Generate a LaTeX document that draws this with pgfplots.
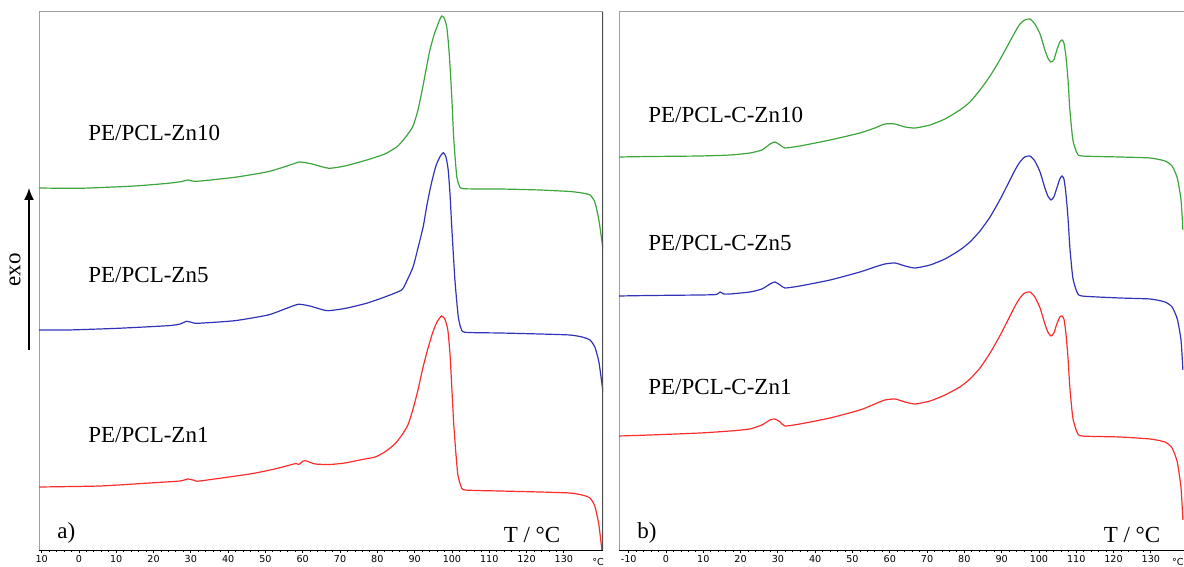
\documentclass[border=0pt]{standalone}
\usepackage{fontspec}
\setmainfont{Liberation Serif}
\newfontfamily\tickfont{DejaVu Sans}
\usepackage{pgfplots}
\pgfplotsset{compat=1.18}
\usetikzlibrary{arrows.meta}

\definecolor{cgreen}{RGB}{60,165,60}
\definecolor{cblue}{RGB}{50,50,185}
\definecolor{cred}{RGB}{250,45,45}
\definecolor{frame}{RGB}{160,160,160}

\pgfplotsset{
  dsc/.style={
    scale only axis,
    height=269pt,
    ymin=0, ymax=538,
    axis x line*=bottom,
    axis y line*=left,
    x axis line style={black,-},
    y axis line style={frame,-},
    ytick=\empty,
    xtick={-10,0,...,130},
    minor x tick num=4,
    tick align=outside,
    major tick length=1.6pt,
    minor tick length=1pt,
    tick style={black,line width=0.4pt},
    xticklabel style={font=\tickfont\fontsize{4.8}{5}\selectfont, inner sep=1pt},
    every axis plot/.append style={line width=0.6pt, no marks, smooth, tension=0.35},
  }
}

\begin{document}
\begin{tikzpicture}
\useasboundingbox (0,0) rectangle (592pt,283.5pt);

% ---------- a) ----------
\begin{axis}[dsc, at={(19.5pt,8.5pt)}, anchor=south west, width=282pt,
    xmin=-10.7, xmax=140.5,
    xticklabels={10,0,10,20,30,40,50,60,70,80,90,100,110,120,130}]
\addplot[cgreen] coordinates {
(-10.7,362) (0.3,361.7) (15.0,364) (23.9,366.7) (27.6,368.5) (29.2,370) (31.6,368.7)
(41.8,372.7) (50.7,378.3) (56.6,385) (59.2,388) (62.5,386) (65.1,383.3) (67.3,381.7)
(71.3,384) (77.2,390) (82.0,396) (85.3,403.3) (87.4,412) (89.5,423.3) (90.9,440)
(92.2,463.3) (93.3,485) (94.1,500) (95.2,515) (96.0,523.3) (96.8,531) (97.3,534)
(97.9,532) (98.6,523.3) (99.1,505) (99.5,483.3) (100.0,450) (100.4,417) (100.8,395)
(101.3,373.3) (101.9,365) (103.0,361.3) (112.9,361) (123.6,360) (131.6,358.5)
(134.9,357) (137.0,355) (138.3,348) (139.4,330) (140.5,301)
};
\addplot[cblue] coordinates {
(-10.7,220) (-2.9,220) (10.5,221.7) (23.9,224.3) (27.1,226) (28.9,228.7) (30.3,227.5)
(31.9,226.7) (41.8,229.3) (50.7,235) (55.2,241) (58.8,245.7) (61.9,244) (64.6,241)
(66.8,239.3) (71.3,241.5) (77.1,246.7) (82.0,253) (86.5,260) (87.9,269) (89.6,283.3)
(90.9,302) (92.3,323.3) (93.3,345) (94.5,366.7) (95.7,384) (96.8,393.3) (97.7,397.3)
(98.4,393) (99.0,380) (99.5,355) (99.9,326.7) (100.8,270) (101.7,233.3) (102.4,222)
(103.5,217.7) (112.9,217) (123.6,216) (131.6,215) (134.9,213) (137.0,210) (138.3,203)
(139.4,188) (140.5,158)
};
\addplot[cred] coordinates {
(-10.7,63) (5.6,64) (19.0,67) (27.1,69) (29.2,71) (31.1,69.5) (32.4,69) (45.8,76)
(52.5,81) (56.6,85) (58.2,86.5) (59.0,85.5) (60.1,89) (61.1,89) (63.3,86) (67.3,85.5)
(71.3,87) (75.3,90) (79.4,93) (82.0,98) (84.7,106) (86.6,115) (88.2,125) (89.5,140)
(90.9,160) (92.2,182) (93.6,202) (94.9,218) (96.0,228) (97.2,234) (98.1,231) (98.9,220)
(99.5,195) (100.0,160) (100.5,125) (101.1,95) (101.6,75) (102.4,64) (103.5,60)
(112.9,59) (123.6,58) (131.6,57) (134.9,55) (137.0,52) (138.3,44) (139.4,25) (140.2,0)
};
\draw[frame,line width=0.5pt] (rel axis cs:0,1) -- (rel axis cs:1,1);
\draw[black!70,line width=0.8pt] (rel axis cs:1,0) -- (rel axis cs:1,1);
\end{axis}

% ---------- b) ----------
\begin{axis}[dsc, at={(309.5pt,8.5pt)}, anchor=south west, width=282.5pt,
    xmin=-12.6, xmax=138.9,
    xticklabels={-10,0,10,20,30,40,50,60,70,80,90,100,110,120,130}]
\addplot[cgreen] coordinates {
(-12.6,393) (-4.3,393.5) (9.1,394) (17.2,395) (22.5,397) (25.7,400) (27.9,406)
(29.2,408) (30.6,405) (31.9,402) (35.9,404) (44.0,410) (52.0,417) (56.0,422)
(58.7,426) (61.4,426) (64.1,423) (66.8,422) (70.8,425) (74.8,431) (78.8,440)
(81.5,448) (84.2,460) (86.9,474) (89.5,490) (91.7,505) (93.6,518) (94.9,526)
(96.2,530) (97.6,531) (98.9,526) (100.3,516) (101.6,500) (102.4,492) (103.2,488)
(104.0,490) (104.8,500) (105.6,508) (106.2,510) (106.7,507) (107.2,495) (107.8,470)
(108.3,440) (109.1,410) (110.2,397) (111.5,394) (121.7,393) (129.8,392) (133.8,389)
(135.7,384) (137.1,372) (138.1,350) (138.6,320)
};
\addplot[cblue] coordinates {
(-12.6,254) (-4.3,254.5) (9.1,255) (13.5,255.5) (14.5,258) (15.5,256) (17.2,256)
(22.5,258) (25.7,261) (27.9,266) (29.2,268) (30.6,265) (31.9,262) (35.9,264)
(44.0,270) (52.0,278) (56.0,283) (58.7,286) (61.4,287) (64.1,284) (66.8,282)
(70.8,285) (74.8,291) (78.8,300) (81.5,308) (84.2,319) (86.9,333) (89.5,350)
(91.7,366) (93.6,380) (94.9,388) (96.2,393) (97.6,394) (98.9,389) (100.3,378)
(101.6,362) (102.4,354) (103.2,350) (104.0,353) (104.8,362) (105.6,371) (106.2,374)
(106.7,371) (107.2,358) (107.8,332) (108.3,302) (109.1,272) (110.2,258) (111.5,254)
(121.7,252) (129.8,251) (133.8,248) (135.7,243) (137.1,231) (138.1,210) (138.6,180)
};
\addplot[cred] coordinates {
(-12.6,114) (-4.3,115) (9.1,117) (17.2,119) (22.5,121) (25.7,125) (27.9,130)
(29.2,131) (30.6,128) (31.9,124) (35.9,126) (44.0,132) (52.0,140) (56.0,146)
(58.7,150) (61.4,151) (64.1,148) (66.8,146) (70.8,149) (74.8,155) (78.8,163)
(81.5,171) (84.2,182) (86.9,197) (89.5,214) (91.7,230) (93.6,244) (94.9,252)
(96.2,257) (97.6,258) (98.9,253) (100.3,242) (101.6,226) (102.4,218) (103.2,214)
(104.0,217) (104.8,226) (105.6,233) (106.2,234) (106.7,231) (107.2,218) (107.8,192)
(108.3,162) (109.1,132) (110.2,118) (111.5,114) (121.7,113) (129.8,111) (133.8,108)
(135.7,102) (137.1,88) (138.1,62) (138.6,30)
};
\draw[frame,line width=0.5pt] (rel axis cs:0,1) -- (rel axis cs:1,1);
\end{axis}

% ---------- texts ----------
\begin{scope}[every node/.style={font=\fontsize{11.5}{13}\selectfont, inner sep=0pt}]
\node[anchor=west] at (44pt,217pt) {PE/PCL-Zn10};
\node[anchor=west] at (44pt,146pt) {PE/PCL-Zn5};
\node[anchor=west] at (44pt,66pt) {PE/PCL-Zn1};
\node[anchor=west] at (324pt,226pt) {PE/PCL-C-Zn10};
\node[anchor=west] at (324pt,162pt) {PE/PCL-C-Zn5};
\node[anchor=west] at (324pt,90pt) {PE/PCL-C-Zn1};
\node[anchor=west] at (28.5pt,17pt) {a)};
\node[anchor=west] at (318.5pt,17pt) {b)};
\node at (266pt,16pt) {T / °C};
\node at (566pt,16pt) {T / °C};
\node[rotate=90] at (7.5pt,148.5pt) {exo};
\end{scope}
\draw[-{Latex[length=6pt,width=5pt]}, line width=0.7pt] (14.5pt,108.5pt) -- (14.5pt,189.5pt);
\node[font=\tickfont\fontsize{4.8}{5}\selectfont, inner sep=0pt] at (299pt,2.5pt) {°C};
\node[font=\tickfont\fontsize{4.8}{5}\selectfont, inner sep=0pt, anchor=east] at (592pt,2.5pt) {°C};
\end{tikzpicture}
\end{document}
